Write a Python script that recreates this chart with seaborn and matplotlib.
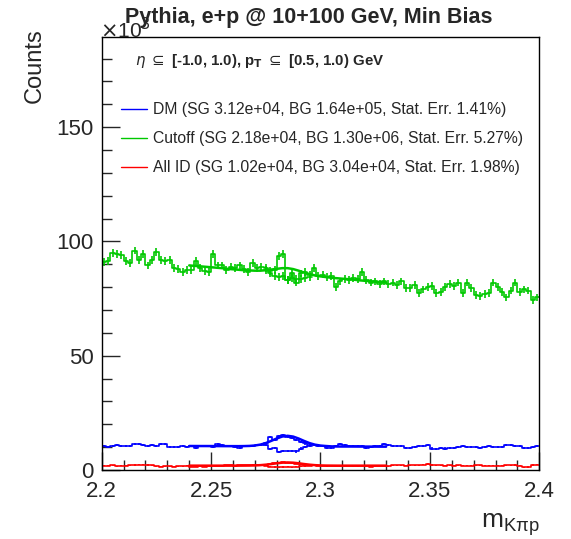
import numpy as np
import pandas as pd
import matplotlib
matplotlib.use("Agg")
import matplotlib.pyplot as plt
import seaborn as sns
from matplotlib.ticker import MultipleLocator

# histogram binning (100 bins, 2.2 - 2.4)
n_bins = 100
edges = np.linspace(2.2, 2.4, n_bins + 1)
centers = 0.5 * (edges[:-1] + edges[1:])

# counts in units of 10^3
cutoff_counts = [91, 91.5, 95, 94.5, 94, 91.5, 90.5, 96, 92, 94.5,
                 89.5, 92, 95.5, 92, 91.5, 92, 88.5, 88, 86.5, 87.5,
                 87.5, 91.5, 88.5, 87, 86.5, 94.5, 89.5, 89.5, 87.5, 89,
                 88.5, 89.5, 88, 86.5, 90.5, 88.5, 89, 88.5, 87, 87.5,
                 93.5, 94.5, 83, 86, 83.5, 86, 86.5, 85.5, 88.5, 85,
                 85.5, 84.5, 85, 80, 82.5, 83.5, 83, 84, 83.5, 86.5,
                 83, 82, 82.5, 81.5, 82.5, 81.5, 82, 81, 82.5, 79.5,
                 79.5, 81, 77.5, 79, 80, 80.5, 77.5, 78, 80, 81.5,
                 80.5, 82, 77.5, 82, 79.5, 76.5, 76, 77, 77.5, 82,
                 80, 78, 75.5, 78.5, 82, 78, 79, 78.5, 74.5, 75.5]
dm_counts = [10.5, 10.2, 10.6, 10.8, 10.6, 10.7, 10.5, 11.2, 11.3, 11.0,
             10.7, 10.9, 10.6, 11.4, 11.3, 10.1, 9.9, 10.2, 10.4, 10.0,
             10.3, 9.6, 10.6, 10.3, 10.5, 10.2, 11.2, 10.8, 10.4, 10.6,
             10.0, 9.8, 10.3, 10.5, 10.4, 10.8, 11.0, 12.0, 14.5, 13.0,
             14.8, 15.2, 14.5, 13.8, 13.0, 12.3, 11.6, 11.0, 10.8, 10.6,
             10.3, 9.6, 9.8, 10.4, 11.2, 10.8, 10.5, 10.6, 10.3, 10.4,
             9.6, 9.9, 10.4, 10.6, 11.2, 11.0, 10.5, 10.3, 10.5, 9.6,
             9.7, 10.0, 10.4, 10.6, 10.8, 9.4, 9.3, 9.5, 9.4, 9.6,
             9.8, 10.2, 10.4, 10.2, 9.9, 10.0, 9.8, 10.1, 10.3, 10.0,
             9.9, 10.1, 10.8, 10.9, 10.7, 10.6, 9.7, 9.8, 10.2, 10.3]
allid_counts = [1.9, 1.8, 2.0, 1.7, 1.8, 1.9, 2.1, 2.2, 2.4, 2.3,
                2.2, 2.0, 1.6, 1.5, 1.6, 1.7, 1.5, 1.6, 1.7, 1.8,
                1.5, 1.4, 1.6, 1.5, 1.7, 1.8, 1.9, 1.8, 2.0, 2.0,
                1.9, 2.1, 2.0, 2.1, 2.2, 2.0, 2.2, 2.3, 2.6, 2.9,
                3.2, 3.3, 3.2, 3.0, 2.8, 2.5, 2.3, 2.1, 2.0, 1.9,
                1.8, 1.7, 1.9, 1.8, 1.7, 1.9, 1.8, 1.7, 1.6, 1.8,
                1.7, 1.5, 1.6, 1.8, 1.9, 1.7, 2.0, 2.1, 2.0, 1.9,
                2.0, 2.1, 2.0, 2.4, 2.6, 2.2, 2.0, 2.1, 1.9, 2.0,
                1.9, 2.0, 1.8, 1.9, 1.8, 2.0, 2.1, 1.9, 1.8, 1.9,
                1.8, 1.9, 2.0, 2.1, 2.2, 1.9, 1.2, 1.3, 2.2, 2.3]
cutoff_err = 1.7
dm_err = 0.45
allid_err = 0.25

# background-only histograms in the peak window (bins 37..47)
bg_first_bin = 37
cutoff_bg = [87.5, 86, 85, 84.5, 85, 83, 84, 82, 83.5, 84, 84.5]
dm_bg = [11.0, 9.2, 9.6, 8.0, 8.3, 8.2, 8.5, 8.1, 9.4, 10.2, 10.5]
allid_bg = [1.8, 1.5, 1.3, 1.2, 1.3, 1.4, 1.2, 1.5, 1.6, 1.7, 1.8]

# fit curves, sampled every 0.0025 from 2.24 to 2.33
fit_x = np.linspace(2.24, 2.33, 37)
cutoff_fit = [89.5, 89.3, 89.1, 88.9, 88.7, 88.5, 88.3, 88.0, 87.8, 87.6,
              87.4, 87.3, 87.2, 87.2, 87.4, 87.7, 88.0, 88.3, 88.3, 87.9,
              87.2, 86.4, 85.7, 85.1, 84.7, 84.4, 84.1, 83.9, 83.7, 83.5,
              83.3, 83.0, 82.8, 82.6, 82.4, 82.2, 82.0]
dm_fit = [10.5, 10.49, 10.48, 10.48, 10.47, 10.46, 10.45, 10.44, 10.44, 10.43,
          10.46, 10.53, 10.72, 11.11, 11.79, 12.74, 13.79, 14.63, 14.96, 14.62,
          13.77, 12.72, 11.76, 11.08, 10.69, 10.49, 10.33, 10.28, 10.27, 10.27,
          10.26, 10.25, 10.24, 10.24, 10.23, 10.22, 10.21]
allid_fit = [1.9, 1.9, 1.9, 1.9, 1.9, 1.9, 1.9, 1.9, 1.9, 1.9,
             1.92, 1.94, 2.0, 2.12, 2.33, 2.61, 2.94, 3.2, 3.3, 3.2,
             2.94, 2.61, 2.33, 2.12, 2.0, 1.94, 1.92, 1.9, 1.9, 1.9,
             1.9, 1.9, 1.9, 1.9, 1.9, 1.9, 1.9]

labels = ["DM (SG 3.12e+04, BG 1.64e+05, Stat. Err. 1.41%)",
          "Cutoff (SG 2.18e+04, BG 1.30e+06, Stat. Err. 5.27%)",
          "All ID (SG 1.02e+04, BG 3.04e+04, Stat. Err. 1.98%)"]
colors = ["#0000ff", "#00c800", "#ff0000"]

sns.set_style("ticks")
plt.rcParams["font.family"] = ["Liberation Sans", "DejaVu Sans"]

fig = plt.figure(figsize=(5.71, 5.39), dpi=100)
ax = fig.add_axes([101.7 / 571, 1 - 470 / 539, 437.6 / 571, 432.7 / 539])

series = [(dm_counts, dm_err, dm_bg, dm_fit),
          (cutoff_counts, cutoff_err, cutoff_bg, cutoff_fit),
          (allid_counts, allid_err, allid_bg, allid_fit)]

handles = []
for (counts, err, bg, fit), col, lab in zip(series, colors, labels):
    hist_df = pd.DataFrame({"m": centers, "n": np.asarray(counts, dtype=float)})
    sns.histplot(data=hist_df, x="m", weights="n", bins=edges.tolist(),
                 element="step", fill=False, color=col, lw=1.2, ax=ax)
    ax.errorbar(centers, counts, yerr=err, fmt="none", ecolor=col,
                elinewidth=1.2, capsize=0)
    sel = slice(bg_first_bin, bg_first_bin + len(bg))
    bg_df = pd.DataFrame({"m": centers[sel], "n": np.asarray(bg, dtype=float)})
    sns.histplot(data=bg_df, x="m", weights="n",
                 bins=edges[bg_first_bin:bg_first_bin + len(bg) + 1].tolist(),
                 element="step", fill=False, color=col, lw=1.2, ax=ax)
    ax.errorbar(centers[sel], bg, yerr=err, fmt="none", ecolor=col,
                elinewidth=1.2, capsize=0)
    sns.lineplot(x=fit_x, y=fit, color=col, lw=1.8, ax=ax)
    handles.append(plt.Line2D([], [], color=col, lw=1.0, label=lab))

ax.set_xlim(2.2, 2.4)
ax.set_ylim(0, 189.3)
ax.set_xlabel("")
ax.set_ylabel("")
ax.xaxis.set_minor_locator(MultipleLocator(0.01))
ax.yaxis.set_major_locator(MultipleLocator(50))
ax.yaxis.set_minor_locator(MultipleLocator(10))
ax.set_xticks([2.2, 2.25, 2.3, 2.35, 2.4])
ax.set_xticklabels(["2.2", "2.25", "2.3", "2.35", "2.4"])
ax.tick_params(which="both", direction="in", top=False, right=False,
               labelsize=16, width=1, pad=6)
ax.tick_params(axis="x", pad=8)
ax.tick_params(which="major", length=13)
ax.tick_params(which="minor", length=7)
for s in ax.spines.values():
    s.set_visible(True)
    s.set_linewidth(1)
    s.set_color("black")

ax.legend(handles=handles, loc="upper left", bbox_to_anchor=(0.045, 0.85),
          frameon=False, fontsize=11.3, handlelength=1.6, handletextpad=0.4,
          labelspacing=0.9, borderpad=0, borderaxespad=0)

fig.text(0.54, 1 - 17 / 539, "Pythia, e+p @ 10+100 GeV, Min Bias",
         ha="center", va="center", fontsize=15.5, fontweight="bold")
fig.text(100 / 571, 1 - 38 / 539, r"$\times$10$^{3}$", ha="left",
         va="baseline", fontsize=15, zorder=0)
ax.text(0.075, 0.945, r"$\eta$ $\subseteq$ [-1.0, 1.0), p$_{\mathbf{T}}$ $\subseteq$ [0.5, 1.0) GeV",
        transform=ax.transAxes, ha="left", va="center", fontsize=10.8,
        fontweight="bold")
fig.text(35 / 571, 1 - 28 / 539, "Counts", rotation=90, ha="center",
         va="top", fontsize=17)
fig.text(540 / 571, 1 - 528 / 539, r"m$_{\mathregular{K\pi p}}$", ha="right",
         va="baseline", fontsize=19)

fig.savefig("out.png", dpi=100)
